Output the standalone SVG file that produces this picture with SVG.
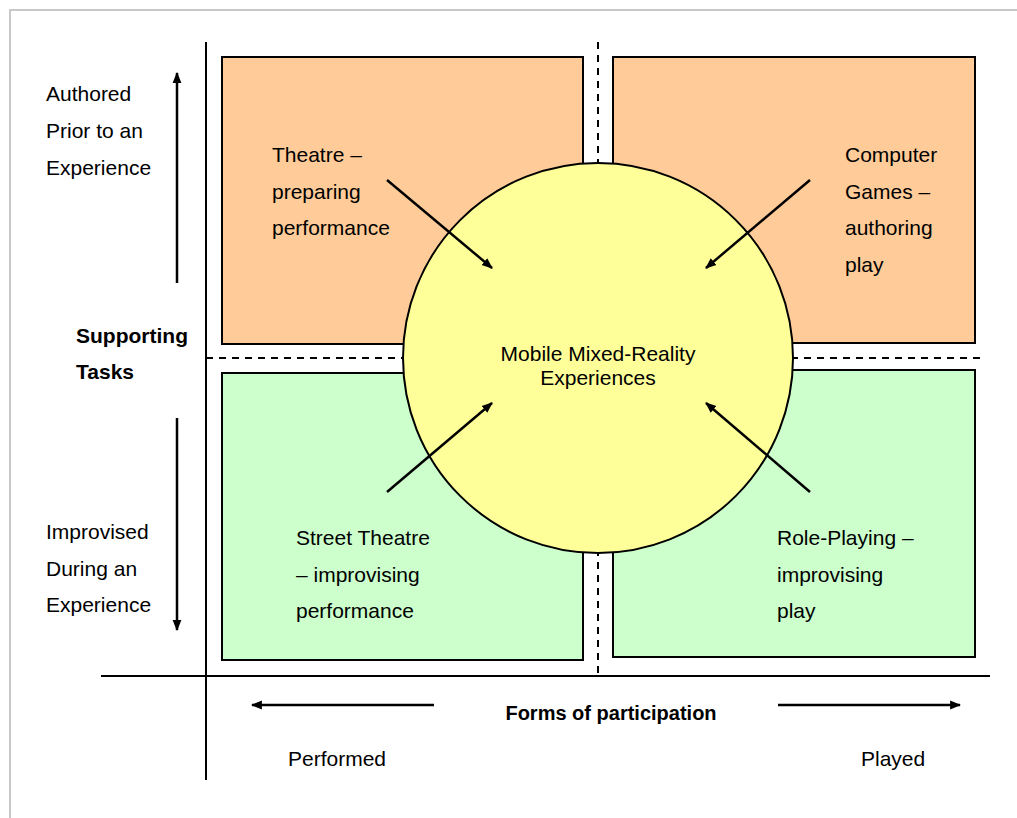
<svg xmlns="http://www.w3.org/2000/svg" width="1017" height="818" viewBox="0 0 1017 818">
<defs>
<marker id="ah" viewBox="0 0 10 10" refX="9" refY="5" markerWidth="11" markerHeight="11" markerUnits="userSpaceOnUse" orient="auto">
<path d="M0,1 L10,5 L0,9 z" fill="#000"/>
</marker>
<style>
text{font-family:"Liberation Sans",Arial,sans-serif;font-size:21px;fill:#000}
.b{font-weight:bold}
.ax{stroke:#000;stroke-width:2;fill:none}
.dash{stroke:#000;stroke-width:2;stroke-dasharray:7,6;fill:none}
.q{stroke:#000;stroke-width:2}
.or{fill:#FFCC99}
.gr{fill:#CCFFCC}
.ar{stroke:#000;stroke-width:2.5;fill:none;marker-end:url(#ah)}
</style>
</defs>
<rect x="0" y="0" width="1017" height="818" fill="#fff"/>
<path d="M10,818 V10 H1017" stroke="#c8c8c8" stroke-width="2" fill="none"/>
<g id="axes">
<line class="ax" x1="206" y1="42" x2="206" y2="780"/>
<line class="ax" x1="101" y1="676" x2="990" y2="676"/>
<line class="dash" x1="598" y1="42" x2="598" y2="676"/>
<line class="dash" x1="206" y1="358" x2="985" y2="358"/>
</g>
<g id="q-theatre"><rect class="q or" x="222" y="57" width="361" height="287"/>
<text x="272" y="162">Theatre –</text><text x="272" y="199">preparing</text><text x="272" y="235">performance</text></g>
<g id="q-games"><rect class="q or" x="613" y="57" width="362" height="286"/>
<text x="845" y="162">Computer</text><text x="845" y="199">Games –</text><text x="845" y="235">authoring</text><text x="845" y="272">play</text></g>
<g id="q-street"><rect class="q gr" x="222" y="373" width="361" height="287"/>
<text x="296" y="545">Street Theatre</text><text x="296" y="582">– improvising</text><text x="296" y="618">performance</text></g>
<g id="q-role"><rect class="q gr" x="613" y="370" width="362" height="287"/>
<text x="777" y="545">Role-Playing –</text><text x="777" y="582">improvising</text><text x="777" y="618">play</text></g>
<g id="center"><circle cx="598" cy="358" r="195" fill="#FFFF99" stroke="#000" stroke-width="2"/>
<text x="598" y="361" text-anchor="middle">Mobile Mixed-Reality</text>
<text x="598" y="385" text-anchor="middle">Experiences</text></g>
<g id="connectors">
<line class="ar" x1="387" y1="180" x2="492" y2="268"/>
<line class="ar" x1="810" y1="180" x2="706" y2="268"/>
<line class="ar" x1="387" y1="492" x2="492" y2="403"/>
<line class="ar" x1="810" y1="492" x2="706" y2="403"/>
<line class="ar" x1="177" y1="283" x2="177" y2="73"/>
<line class="ar" x1="177" y1="418" x2="177" y2="630"/>
<line class="ar" x1="434" y1="705" x2="252" y2="705"/>
<line class="ar" x1="778" y1="705" x2="960" y2="705"/>
</g>
<g id="labels">
<text x="46" y="101">Authored</text><text x="46" y="138">Prior to an</text><text x="46" y="175">Experience</text>
<text class="b" x="76" y="343">Supporting</text><text class="b" x="76" y="379">Tasks</text>
<text x="46" y="539">Improvised</text><text x="46" y="576">During an</text><text x="46" y="612">Experience</text>
<text class="b" x="611" y="720" text-anchor="middle" style="font-size:20px">Forms of participation</text>
<text x="288" y="766">Performed</text><text x="861" y="766">Played</text>
</g>
</svg>
